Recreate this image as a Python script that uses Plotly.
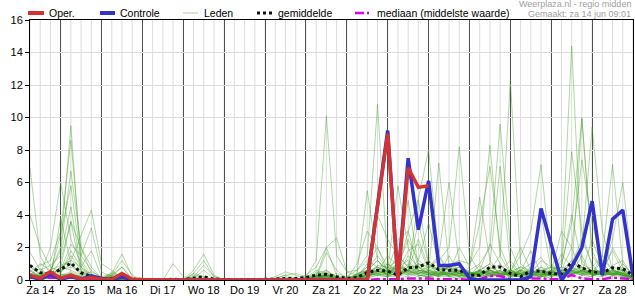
import plotly.graph_objects as go
import pandas as pd

# ---------------- data ----------------
START = "2025-06-14 06:00"
N_STEPS = 60  # 6-hourly values, 14 jun 06h .. 29 jun 00h

day_labels = ["Za 14", "Zo 15", "Ma 16", "Di 17", "Wo 18", "Do 19", "Vr 20",
              "Za 21", "Zo 22", "Ma 23", "Di 24", "Wo 25", "Do 26", "Vr 27", "Za 28"]

oper = [0.3, 0.1, 0.5,
        0.1, 0.3, 0.05, 0.15, 0.05, 0.05, 0.4, 0.05, 0, 0, 0, 0, 0, 0, 0, 0,
        0, 0, 0, 0, 0, 0, 0, 0, 0, 0, 0, 0, 0, 0, 0, 4.5, 9.0, 0, 6.9, 5.7,
        5.8]

controle = [0.2, 0.05, 0.35,
            0.05, 0.2, 0.05, 0.25, 0.1, 0.02, 0.2, 0.02, 0, 0, 0, 0, 0, 0, 0, 0,
            0, 0, 0, 0, 0, 0, 0, 0, 0, 0, 0, 0, 0, 0, 0, 4.6, 9.2, 0, 7.5, 3.1,
            6.1, 0.9, 0.9, 1.0, 0.1, 0, 0, 0, 0, 0, 0.2, 4.4, 2.2, 0, 0.8, 2.0,
            4.85, 0.3, 3.75, 4.3, 0.2]

gemiddelde = [0.9, 0.45, 0.35,
              0.65, 1.05, 0.45, 0.2, 0.1, 0.1, 0.25, 0.05, 0.02, 0.02, 0.02, 0.05,
              0.02, 0.1, 0.2, 0.05, 0.02, 0.02, 0.02, 0.02, 0.02, 0.05, 0.1, 0.1,
              0.15, 0.3, 0.35, 0.2, 0.1, 0.15, 0.45, 0.6, 0.55, 0.3, 0.75, 0.8,
              1.05, 0.65, 0.6, 0.6, 0.3, 0.3, 0.8, 0.8, 0.4, 0.2, 0.55, 0.55,
              0.4, 0.35, 1.1, 0.75, 0.5, 0.45, 0.75, 0.7, 0.3]

mediaan = [0.2, 0.1, 0.15,
           0.1, 0.2, 0.1, 0.05, 0, 0, 0.15, 0, 0, 0, 0, 0, 0, 0, 0, 0,
           0, 0, 0, 0, 0, 0, 0, 0, 0, 0, 0, 0, 0, 0, 0, 0.05, 0.05, 0.05, 0.1, 0.1,
           0.1, 0.05, 0.05, 0.05, 0, 0.05, 0.25, 0.25, 0.05, 0, 0.1, 0.1,
           0.05, 0.05, 0.3, 0.1, 0.05, 0.05, 0.15, 0.1, 0.05]

leden = [
    [0.5,1.0,0.6, 2.0,9.5,0.8,0.2, 0,0.2,0.1,0, 0,0,0,0, 0,0.2,0.1,0, 0,0,0,0, 0,0,0,0.1, 0.1,0.3,0.2,0,
     0,0.2,0.6,1.5, 0.6,2.5,3.0,0.8, 0.4,0.3,1.5,0.4, 0,0.6,2.2,1.0, 0.3,0.2,0.8,1.4, 0.5,3.0,2.0,0.4, 0.2,0.6,1.8,0.5, 0.1],
    [6.9,1.5,0.3, 1.2,3.6,0.5,0.1, 0,0.5,0.2,0, 0,0,0,0, 0,0.1,0,0, 0,0,0,0, 0,0,0,0, 0,0,0.4,0.2,
     0,0.1,0.3,0.8, 0.2,1.2,0.5,4.9, 1.0,0.3,0.8,0.2, 0,0.3,0.5,0.2, 0.1,0.4,0.2,0.6, 0.8,0.3,1.2,0.6, 0.4,1.5,0.6,0.2, 0.3],
    [4.0,2.0,0.8, 0.5,1.0,0.3,0.5, 0.2,0.4,1.6,0.2, 0,0,0,0, 0,0.4,0.2,0, 0,0,0,0, 0,0,0,0, 0,0.2,0.6,0.1,
     0,0,0.2,0.5, 1.5,0.8,2.5,1.2, 3.5,1.0,0.6,0.8, 0.5,0.2,0.4,1.0, 0.2,0.5,1.8,0.4, 0.2,0.6,0.4,1.5, 0.3,0.2,0.9,1.2, 0.2],
    [1.7,0.6,0.9, 1.5,4.5,0.7,0.2, 0,0.3,0.1,0, 0,0,0,0, 0,0,0,0, 0,0,0,0, 0,0,0.2,0, 0,0.5,0.3,0,
     0,0.3,0.5,0.6, 0.3,0.6,1.8,2.2, 0.6,0.8,0.2,0.1, 0.3,0.9,0.4,0.2, 0.5,2.0,0.6,0.3, 0.1,0.8,4.0,1.0, 0.6,0.4,0.3,0.8, 0.1],
    [0.3,0.9,1.2, 3.0,8.6,1.5,0.6, 0.1,0.4,0.2,0, 0,0,0,0, 0,0,0.1,0, 0,0,0,0, 0,0,0,0, 0,0.1,0.2,0,
     0,0,0.4,0.9, 0.8,0.4,1.0,0.6, 0.5,0.2,0.9,1.2, 1.0,2.0,8.3,1.5, 0.4,0.2,0.3,0.8, 0.3,0.5,1.0,2.5, 1.0,0.2,0.5,0.6, 0],
    [0.8,0.4,2.0, 6.0,2.5,1.0,0.2, 0,0.2,0,0, 0,0,0,0, 0,0,0,0, 0,0,0,0, 0,0,0,0, 0,0.2,2.0,0.3,
     0.1,0.3,0.8,0.4, 0.2,0.9,0.6,1.2, 0.7,1.4,0.5,0.3, 0.2,0.5,0.3,0.6, 1.2,0.4,0.2,0.3, 0.6,0.3,0.5,9.9, 1.5,0.6,0.3,0.4, 0.2],
    [0.2,0.3,0.6, 1.8,6.7,2.0,0.8, 0.1,0.3,0.1,0, 0,0,0,0, 0,0.3,0.2,0, 0,0,0,0, 0,0,0,0, 0,0,0.2,0,
     0,0.2,1.0,2.0, 0.5,1.5,0.8,0.4, 0.6,0.3,0.4,2.0, 0.8,3.5,7.0,2.0, 0.5,0.8,0.4,0.2, 0.4,1.6,0.8,0.5, 2.5,0.8,0.4,0.3, 0.1],
    [0.4,0.2,0.5, 2.8,5.8,1.2,0.3, 0,0.2,0.8,0, 0,0,0,0, 0,0,0,0, 0,0,0,0, 0,0,0,0, 0,0.3,0.1,0,
     0,0.1,0.3,0.4, 0.6,1.0,0.4,0.8, 1.2,0.5,0.3,0.2, 0.8,5.1,1.2,0.3, 0.2,0.6,1.0,0.4, 0.3,0.2,0.6,0.8, 0.4,1.2,0.7,0.3, 0],
    [1.0,0.3,0.2, 0.8,3.6,2.0,0.4, 0,0.1,0,0, 0,0,0,0, 0,0,0,0, 0,0,0,0, 0,0.1,0.3,0.1, 0,0.1,0.3,0,
     0,0,0.2,0.5, 0.4,0.8,1.2,0.5, 0.3,0.8,0.6,0.4, 0.6,1.0,2.0,9.6, 2.0,0.5,0.3,0.2, 0.4,0.8,0.6,0.3, 0.2,0.5,0.3,0.6, 0.4],
    [0.6,0.1,0.3, 0.8,1.2,2.8,4.3, 1.0,0.6,0.1,0, 0,0,0,0, 0,0,0,0, 0,0,0,0, 0,0,0,0, 0.1,0.6,0.4,0,
     0,0.4,0.6,0.3, 0.2,0.3,0.8,0.5, 0.8,0.6,1.0,0.5, 0.4,0.6,1.0,7.0, 1.0,0.3,0.4,1.2, 0.8,0.5,0.3,0.6, 0.3,0.4,2.0,0.8, 0.1],
    [0.2,0.5,0.4, 0.6,2.2,1.5,3.2, 0.5,0.2,0.1,0, 0,0,0,0, 0,0.1,0.1,0, 0,0,0,0, 0,0,0,0, 0,0.2,0.3,0.1,
     0,0.2,0.3,0.6, 1.0,0.4,0.6,0.3, 0.2,0.6,0.8,0.4, 0.3,0.4,0.6,1.5, 12.3,1.0,0.4,0.2, 0.3,0.6,1.2,0.5, 0.6,0.3,0.4,0.2, 0],
    [0.3,0.7,0.2, 0.4,1.8,0.8,1.8, 0.2,0.1,0,0, 0,0,0,0, 0,0,0,0, 0,0,0,0, 0,0,0,0, 0,0.4,0.6,0.2,
     0,0.1,0.6,1.2, 0.4,0.6,0.3,0.8, 0.4,0.2,0.5,0.8, 0.3,0.6,0.2,0.4, 0.5,1.5,3.0,7.1, 1.0,0.4,0.5,0.8, 0.3,0.6,0.4,0.3, 0.2],
    [0.6,0.2,0.1, 3.8,1.0,0.4,0.1, 0.1,0.3,1.2,0.3, 0,0,0,0, 0,0,0,0, 0,0,0,0, 0,0,0,0, 0,0.1,0.2,0,
     0,0.2,0.1,0.3, 0.6,0.3,1.5,0.8, 0.3,0.4,0.3,0.6, 0.3,0.2,0.8,0.5, 0.4,0.8,0.6,4.0, 0.6,0.3,0.8,0.4, 0.5,0.3,0.2,1.0, 0.3],
    [0.2,0.4,0.3, 0.5,1.5,0.6,0.2, 0,0.3,0.8,0.1, 0,0,0,0, 0,0,0,0, 0,0,0,0, 0,0,0,0, 0,0,0.2,0.1,
     0,0.1,0.4,0.8, 0.3,1.0,0.6,0.4, 0.2,0.3,0.4,0.2, 0.1,0.3,0.6,0.4, 0.3,0.2,0.5,0.6, 0.4,1.2,14.4,1.2, 0.4,0.6,0.3,0.2, 0],
    [0.4,0.3,0.6, 0.9,1.2,0.8,0.3, 0,0.2,0,0.1, 0,0,0,1.0, 0.2,0.1,0,0, 0,0,0,0, 0,0,0,0, 0,0.2,0.4,0,
     0,0.3,0.2,0.4, 0.5,0.3,0.6,1.0, 0.6,0.5,0.4,0.3, 0.2,0.4,0.3,0.5, 0.6,0.3,0.4,0.8, 0.5,0.8,7.9,3.0, 0.8,0.4,0.3,0.4, 0.1],
    [0.1,0.2,0.4, 0.6,0.8,0.5,0.2, 0,0.1,0,0, 0,0,0,0, 0,0.6,1.6,0.3, 0,0,0,0, 0,0,0,0, 0,0.1,0.4,0.2,
     0,0.2,0.5,0.6, 0.3,0.4,0.8,0.6, 0.4,0.6,0.2,0.4, 0.5,0.3,0.6,0.4, 0.3,0.6,0.4,0.3, 0.6,1.0,3.5,10.0, 1.8,0.5,0.6,0.4, 0.2],
    [0.3,0.1,0.2, 0.8,0.6,0.3,0.1, 0,0,0,0, 0,0,0,0, 0,0.4,1.2,0.2, 0,0,0,0, 0,0,0,0, 0,0.2,0.1,0,
     0,0.1,0.2,0.3, 0.4,0.6,0.4,0.2, 0.5,0.3,0.6,0.4, 0.2,0.6,1.0,0.3, 0.4,0.3,0.2,0.5, 0.8,0.6,2.0,7.4, 3.5,1.0,0.4,0.3, 0],
    [0.2,0.3,0.1, 0.3,0.4,0.2,0.1, 0,0,0,0, 0,0,0,0, 0,0.2,0.9,0.2, 0,0,0,0, 0,0,0,0, 0,0,0.1,0,
     0,0,0.3,0.5, 0.6,0.3,0.2,0.5, 0.3,0.4,0.5,0.2, 0.4,0.2,0.3,0.6, 0.2,0.4,0.6,0.3, 0.5,0.3,0.8,2.0, 9.4,3.0,0.6,0.4, 0.1],
    [0.1,0.2,0.3, 0.2,0.3,0.1,0, 0,0,0,0, 0,0,0,0, 0,0.1,0.6,0.1, 0,0,0,0, 0,0,0,0, 0,0.1,0.2,0.1,
     0,0.2,0.4,0.3, 0.2,0.5,0.3,0.6, 0.4,0.2,0.3,0.5, 0.3,0.5,0.4,0.2, 0.6,0.3,0.4,0.2, 0.3,0.5,0.4,0.6, 0.8,1.5,7.1,1.0, 0.3],
    [0.3,0.1,0.2, 0.4,0.2,0.3,0, 0,0,0,0, 0,0,0,0, 0,0,0,0, 0,0,0,0, 0,0.2,0.5,0.3, 0.1,0.2,0.1,0,
     0,0.1,0.2,0.6, 0.4,0.3,0.6,0.3, 0.2,0.5,0.3,0.4, 0.5,0.3,0.2,0.4, 0.3,0.6,0.3,0.5, 0.4,0.2,0.6,0.4, 0.5,0.6,2.5,6.0, 0.5],
    [0.2,0.1,0.1, 0.3,0.5,0.2,0, 0,0,0,0, 0,0,0,0, 0,0,0,0, 0,0,0,0, 0,0.1,0.3,0.4, 0.2,0.3,0.2,0,
     0,0.2,0.3,0.4, 0.3,0.2,0.5,0.4, 0.6,0.3,0.2,0.3, 0.3,0.6,0.4,0.2, 0.5,0.2,0.6,0.4, 0.3,0.6,0.4,0.5, 0.6,0.4,0.8,0.6, 0.2],
    [0.1,0.2,0.1, 0.2,0.3,0.1,0, 0,0,0,0, 0,0,0,0, 0,0,0,0, 0,0,0,0, 0,0,0,0, 0.3,0.8,2.0,2.6,
     0.5,0.6,1.2,0.8, 0.5,0.6,0.4,0.3, 0.2,0.3,0.5,0.4, 0.4,0.2,0.3,0.5, 0.2,0.4,0.3,0.2, 0.6,0.4,0.3,0.8, 0.3,0.4,0.5,0.3, 0.1],
    [0.1,0.1,0.2, 0.2,0.1,0.1,0, 0,0,0,0, 0,0,0,0, 0,0,0,0, 0,0,0,0, 0,0,0,0, 0.2,1.2,10.1,1.5,
     0.5,0.3,0.6,0.5, 0.4,0.3,0.6,0.5, 0.3,0.5,0.4,0.3, 0.2,0.4,0.6,0.3, 0.4,0.3,0.5,0.4, 0.3,0.5,0.4,0.3, 0.4,0.6,0.3,0.5, 0.2],
    [0.2,0.1,0.1, 0.1,0.2,0.1,0, 0,0,0,0, 0,0,0,0, 0,0,0,0, 0,0,0,0, 0,0,0,0, 0,0.1,1.7,0.6,
     0.1,0.4,5.5,1.2, 0.6,0.8,0.5,1.0, 0.8,1.2,2.0,8.2, 1.5,0.5,0.4,0.3, 0.6,0.4,0.3,0.5, 0.2,0.4,0.6,0.3, 0.4,0.3,0.6,0.4, 0.1],
    [0.1,0.3,0.2, 0.2,0.4,0.1,0, 0,0,0,0, 0,0,0,0, 0,0,0,0, 0,0,0,0, 0,0,0,0, 0,0.2,0.5,0.2,
     0.1,1.0,3.0,2.0, 0.8,1.2,4.9,0.8, 0.6,0.4,0.8,0.6, 0.3,0.6,0.5,0.4, 0.5,0.3,0.4,0.6, 0.3,0.6,0.5,0.4, 0.5,0.3,0.4,0.6, 0.1],
    [0.1,0.2,0.1, 0.3,0.2,0.1,0, 0,0,0,0, 0,0,0,0, 0,0,0,0, 0,0,0,0, 0,0,0,0, 0,0.1,0.2,0.4,
     0.2,0.6,1.5,10.8, 1.0,0.6,0.5,0.4, 0.5,0.4,0.3,0.6, 0.4,0.5,0.3,0.2, 0.4,0.6,0.5,0.3, 0.4,0.3,0.6,0.5, 0.3,0.5,0.4,0.3, 0.2],
    [0.3,0.2,0.1, 0.2,0.1,0.2,0, 0,0,0,0, 0,0,0,0, 0,0,0,0, 0,0,0,0, 0,0,0,0, 0,0.3,0.2,0.1,
     0,0.3,0.8,4.0, 2.5,1.5,0.8,3.5, 1.0,0.6,0.4,0.5, 0.3,0.4,0.6,0.3, 0.5,0.4,0.6,0.3, 0.4,0.5,0.3,0.6, 0.4,0.6,0.5,0.3, 0],
    [0.2,0.1,0.3, 0.1,0.3,0.2,0, 0,0,0,0, 0,0,0,0, 0,0,0,0, 0,0,0,0, 0,0,0,0, 0,0.1,0.3,0.2,
     0,0.4,0.6,1.2, 0.6,5.8,2.0,0.6, 0.5,7.2,0.8,0.4, 0.3,0.5,0.4,0.6, 0.3,0.5,0.4,0.3, 0.5,0.3,0.4,0.6, 0.3,0.4,0.6,0.4, 0.1],
    [0.1,0.1,0.2, 0.2,0.1,0.1,0, 0,0,0,0, 0,0,0,0, 0,0,0,0, 0,0,0,0, 0,0,0,0, 0,0.2,0.1,0,
     0,0.2,0.5,0.8, 0.5,0.8,0.6,2.5, 0.8,1.5,6.0,1.0, 0.4,0.3,0.5,0.4, 0.6,0.3,0.4,0.5, 0.3,0.4,0.5,0.3, 0.6,0.4,0.3,0.5, 0.2],
    [0.2,0.2,0.1, 0.1,0.2,0.1,0, 0,0,0,0, 0,0,0,0, 0,0,0,0, 0,0,0,0, 0,0,0,0, 0,0.2,0.3,0.1,
     0,0.1,0.4,0.6, 0.8,0.6,3.0,5.0, 8.0,1.5,0.6,0.4, 0.5,0.3,0.6,0.4, 0.3,0.4,0.3,0.6, 0.5,0.3,0.4,0.5, 0.4,0.3,0.5,0.4, 0.1],
]

for m in leden:
    assert len(m) == N_STEPS, len(m)
assert len(controle) == N_STEPS and len(gemiddelde) == N_STEPS and len(mediaan) == N_STEPS

# ---------------- figure ----------------
FONT = "Liberation Sans, Arial, sans-serif"
W, H = 635, 300
ML, MR, MT, MB = 30, 2, 20, 20
PW, PH = W - ML - MR, H - MT - MB

times = pd.date_range(START, periods=N_STEPS, freq="6h")
midnights = pd.date_range(times[0].normalize() + pd.Timedelta(days=1), times[-1], freq="D")
noons = pd.date_range(times[0].normalize() + pd.Timedelta(hours=12), periods=len(day_labels), freq="D")

fig = go.Figure()

for m in leden:
    fig.add_trace(go.Scatter(x=times, y=m, mode="lines",
                             line=dict(color="rgba(60,155,30,0.40)", width=1),
                             hoverinfo="skip", showlegend=False))

fig.add_trace(go.Scatter(x=times, y=mediaan, mode="lines", name="mediaan",
                         line=dict(color="#e000e8", width=2.5, dash="dashdot"),
                         showlegend=False))
fig.add_trace(go.Scatter(x=times, y=gemiddelde, mode="lines", name="gemiddelde",
                         line=dict(color="#111111", width=3, dash="dot"),
                         showlegend=False))
fig.add_trace(go.Scatter(x=times, y=controle, mode="lines", name="Controle",
                         line=dict(color="#3333cc", width=3.5),
                         showlegend=False))
fig.add_trace(go.Scatter(x=times[:len(oper)], y=oper, mode="lines", name="Oper.",
                         line=dict(color="#d33333", width=3.5),
                         showlegend=False))

shapes = []
# light 6-hourly grid
for t in times:
    shapes.append(dict(type="line", xref="x", yref="paper", x0=t, x1=t, y0=0, y1=1,
                       line=dict(color="#dcdcdc", width=1), layer="below"))

def px_x(px):
    return (px - ML) / PW

def px_y(py):
    return (H - MB - py) / PH

annotations = []
LEG_Y = 13
LEG_FONT = 10.5
legend_items = [
    ("Oper.", 28, 44, 47, dict(color="#d33333", width=4)),
    ("Controle", 100, 115, 118, dict(color="#3333cc", width=4)),
    ("Leden", 183, 198, 202, dict(color="rgba(60,155,30,0.45)", width=1)),
    ("gemiddelde", 257, 272, 276, dict(color="#111111", width=3, dash="dot")),
    ("mediaan (middelste waarde)", 355, 369, 375, dict(color="#e000e8", width=2.5, dash="dashdot")),
]
for text, sx0, sx1, tx, ln in legend_items:
    shapes.append(dict(type="line", xref="paper", yref="paper",
                       x0=px_x(sx0), x1=px_x(sx1), y0=px_y(LEG_Y), y1=px_y(LEG_Y), line=ln))
    annotations.append(dict(text=text, xref="paper", yref="paper", x=px_x(tx), y=px_y(LEG_Y),
                            xanchor="left", yanchor="middle", showarrow=False,
                            font=dict(family=FONT, size=LEG_FONT, color="#000")))

annotations.append(dict(text="Weerplaza.nl - regio midden", xref="paper", yref="paper",
                        x=px_x(633), y=px_y(4), xanchor="right", yanchor="middle",
                        showarrow=False, font=dict(family=FONT, size=9, color="#a0a0a0")))
annotations.append(dict(text="Gemaakt: za 14 jun 09:01", xref="paper", yref="paper",
                        x=px_x(633), y=px_y(14), xanchor="right", yanchor="middle",
                        showarrow=False, font=dict(family=FONT, size=9, color="#a0a0a0")))

fig.update_layout(
    width=W, height=H,
    margin=dict(l=ML, r=MR, t=MT, b=MB, pad=0),
    paper_bgcolor="white", plot_bgcolor="white",
    font=dict(family=FONT, size=11, color="#000"),
    shapes=shapes, annotations=annotations,
    showlegend=False,
    xaxis=dict(
        range=[times[0], times[-1]],
        tickmode="array", tickvals=list(noons), ticktext=day_labels,
        ticks="", showgrid=False, zeroline=False,
        showline=True, linecolor="#000", linewidth=1, mirror=True,
        tickfont=dict(family=FONT, size=11, color="#000"),
        minor=dict(tickmode="array", tickvals=[times[0]] + list(midnights),
                   showgrid=True, gridcolor="#505050", gridwidth=1,
                   ticks="outside", ticklen=4, tickcolor="#000"),
    ),
    yaxis=dict(
        range=[0, 16], tickmode="linear", tick0=0, dtick=2,
        showgrid=True, gridcolor="#dcdcdc", gridwidth=1, zeroline=False,
        showline=True, linecolor="#000", linewidth=1, mirror=True,
        ticks="outside", ticklen=4, tickcolor="#000",
        tickfont=dict(family=FONT, size=11, color="#000"),
    ),
)

fig.write_html("out.html")
